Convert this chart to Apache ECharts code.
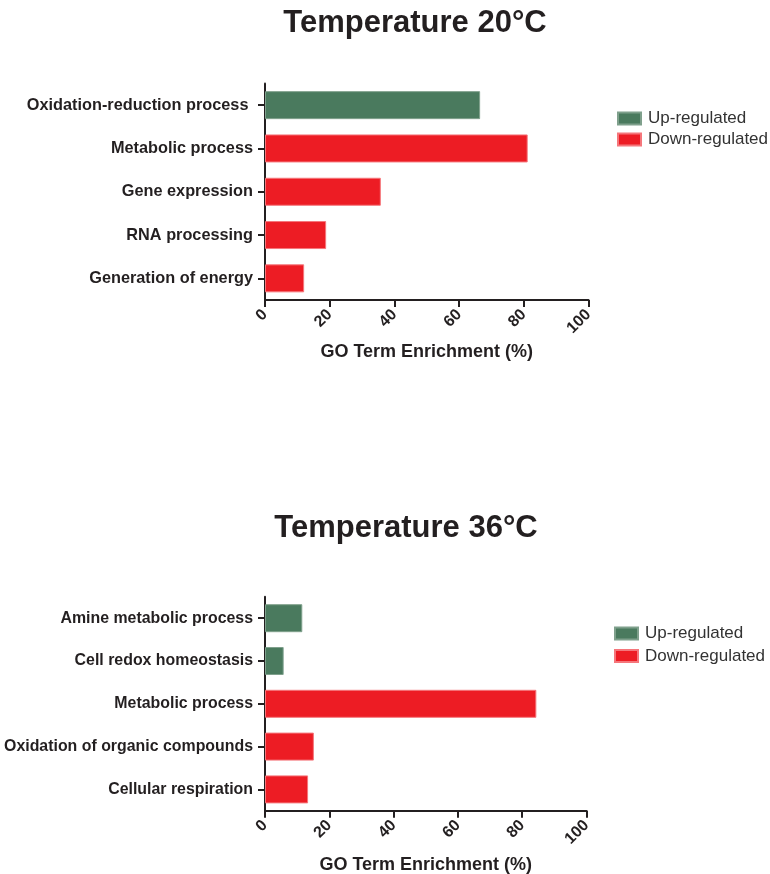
<!DOCTYPE html>
<html>
<head>
<meta charset="utf-8">
<script src="https://cdn.jsdelivr.net/npm/echarts@6/dist/echarts.min.js"></script>
<style>html,body{margin:0;padding:0;background:#fff}#c{width:770px;height:874px}</style>
</head>
<body>
<div id="c"></div>
<script>
var cats20 = ['Oxidation-reduction process ', 'Metabolic process', 'Gene expression', 'RNA processing', 'Generation of energy'];
var up20 = [66.5, '-', '-', '-', '-'];
var down20 = ['-', 81.2, 35.8, 18.9, 12.1];
var cats36 = ['Amine metabolic process', 'Cell redox homeostasis', 'Metabolic process', 'Oxidation of organic compounds', 'Cellular respiration'];
var up36 = [11.6, 5.8, '-', '-', '-'];
var down36 = ['-', '-', 84.4, 15.2, 13.4];
var xTicks = [0, 20, 40, 60, 80, 100];
var titles = ['Temperature 20°C', 'Temperature 36°C'];
var seriesNames = ['Up-regulated', 'Down-regulated'];

var FONT = "'Liberation Sans', Arial, Helvetica, sans-serif";
var INK = '#231f20';
var GREEN = '#4a7a5e';
var RED = '#ed1c24';

function xAxis(idx, gap) {
  return {
    type: 'value', gridIndex: idx, min: xTicks[0], max: xTicks[xTicks.length - 1], interval: xTicks[1] - xTicks[0],
    name: 'GO Term Enrichment (%)', nameLocation: 'middle', nameGap: gap,
    nameTextStyle: { fontFamily: FONT, fontWeight: 'bold', fontSize: 18, color: INK },
    axisLine: { show: true, lineStyle: { color: INK, width: 2 } },
    axisTick: { show: true, length: 7, lineStyle: { color: INK, width: 2 } },
    axisLabel: { rotate: 45, margin: 12, fontFamily: FONT, fontWeight: 'bold', fontSize: 16, color: INK },
    splitLine: { show: false }
  };
}
function yAxis(idx, cats, fs) {
  return {
    type: 'category', gridIndex: idx, data: cats, inverse: true,
    axisLine: { show: true, lineStyle: { color: INK, width: 2 } },
    axisTick: { show: true, alignWithLabel: true, length: 7, lineStyle: { color: INK, width: 2 } },
    axisLabel: { margin: 12, fontFamily: FONT, fontWeight: 'bold', fontSize: fs, color: INK }
  };
}
function bars(idx, name, data, color, border) {
  return {
    type: 'bar', name: name, xAxisIndex: idx, yAxisIndex: idx, data: data, stack: 's' + idx,
    barWidth: 28, itemStyle: { color: color, borderColor: border, borderWidth: 1 },
    animation: false
  };
}
function legend(left, top, gap) {
  return {
    orient: 'vertical', left: left, top: top, itemWidth: 23, itemHeight: 12, itemGap: gap,
    icon: 'rect', data: seriesNames,
    textStyle: { fontFamily: FONT, fontSize: 17, color: '#333', padding: [0, 0, 0, 2] }
  };
}

var chart = echarts.init(document.getElementById('c'));
chart.setOption({
  backgroundColor: '#fff',
  animation: false,
  title: [
    { text: titles[0], left: 410, top: 3, textAlign: 'center',
      textStyle: { fontFamily: FONT, fontWeight: 'bold', fontSize: 31, color: INK } },
    { text: titles[1], left: 401, top: 508, textAlign: 'center',
      textStyle: { fontFamily: FONT, fontWeight: 'bold', fontSize: 31, color: INK } }
  ],
  legend: [legend(612, 105, 4), legend(609, 620, 5.5)],
  grid: [
    { left: 265, width: 323.5, top: 83.5, height: 216.5, containLabel: false, outerBoundsMode: 'none' },
    { left: 265, width: 321.5, top: 596.8, height: 214, containLabel: false, outerBoundsMode: 'none' }
  ],
  xAxis: [xAxis(0, 43), xAxis(1, 45)],
  yAxis: [yAxis(0, cats20, 16.3), yAxis(1, cats36, 15.9)],
  series: [
    bars(0, seriesNames[0], up20, GREEN, '#7fa08c'),
    bars(0, seriesNames[1], down20, RED, '#f5767b'),
    bars(1, seriesNames[0], up36, GREEN, '#7fa08c'),
    bars(1, seriesNames[1], down36, RED, '#f5767b')
  ]
});
</script>
</body>
</html>
